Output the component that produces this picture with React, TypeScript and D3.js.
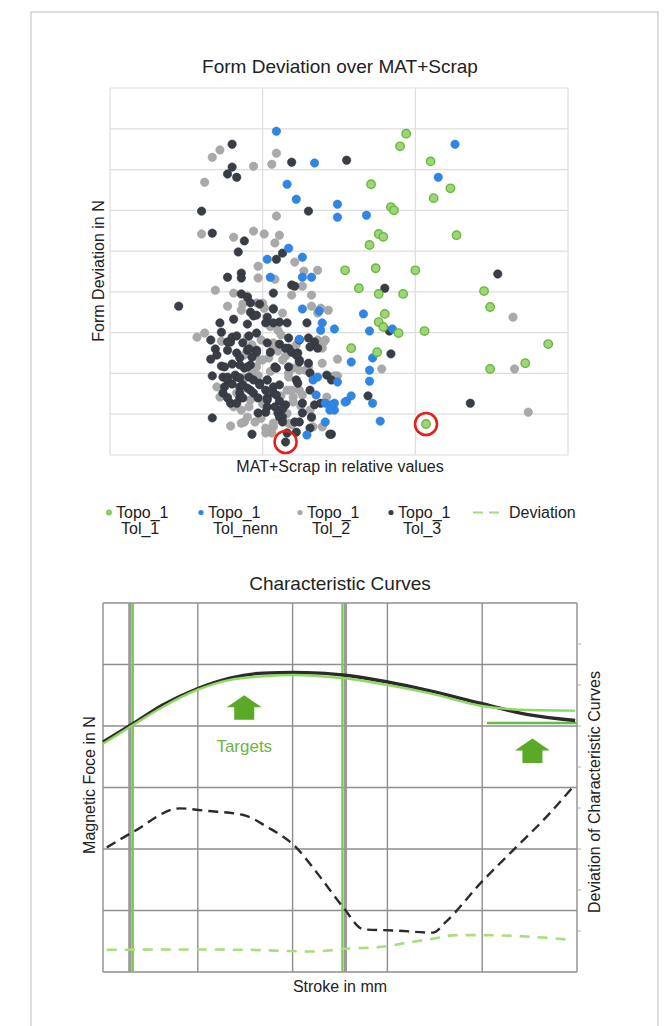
import React from 'react';
import * as d3 from 'd3';

const W = 671;
const H = 1026;
const FONT = "'Liberation Sans', Arial, Helvetica, sans-serif";

// ---------- Scatter data (x: MAT+Scrap relative, y: form deviation) ----------
const tol1: [number, number][] = [
  [1.94,7.88],[1.90,7.57],[2.10,7.20],[1.71,6.64],[2.23,6.54],[2.12,6.30],[1.84,6.08],[1.86,6.00],
  [1.76,5.42],[1.79,5.35],[1.70,5.15],[2.27,5.39],[1.54,4.53],[1.74,4.58],[2.00,4.53],[1.63,4.09],
  [1.76,3.95],[1.92,3.95],[2.45,4.02],[2.49,3.63],[1.80,3.46],[1.76,3.26],[1.79,3.14],[1.89,2.99],
  [2.06,3.04],[2.87,2.72],[1.58,2.62],[1.75,2.52],[2.72,2.25],[2.49,2.11],[2.07,0.76],
];

const tolNenn: [number, number][] = [
  [1.09,7.94],[2.26,7.62],[1.34,7.16],[1.16,6.64],[1.22,6.27],[2.15,6.81],[1.49,6.15],[1.49,5.83],
  [1.68,5.88],[1.17,5.07],[1.26,4.85],[1.03,4.80],[1.05,4.36],[1.26,4.36],[1.32,4.36],[1.26,3.58],
  [1.37,3.53],[1.39,3.24],[1.38,3.06],[1.47,3.09],[1.66,3.46],[1.85,3.09],[1.70,3.04],[1.24,2.84],
  [1.58,2.28],[1.72,2.38],[1.70,2.08],[1.49,1.79],[1.70,1.81],[1.33,1.84],[1.36,1.91],[1.58,1.45],
  [1.55,1.32],[1.72,1.27],[1.47,1.27],[1.47,1.10],[1.41,1.27],[1.45,1.23],[1.44,1.10],[1.54,1.30],
  [1.77,0.83],[1.41,0.81],[1.29,0.49],[1.35,1.47],
];

const tol2: [number, number][] = [
  [0.67,7.30],[0.72,7.48],[1.09,7.40],[0.94,7.08],[1.06,7.13],[0.62,6.69],[1.09,5.86],[0.60,5.42],
  [0.81,5.34],[0.94,5.49],[1.01,5.42],[1.11,5.39],[1.08,5.20],[1.21,4.73],[0.97,4.63],[1.27,4.51],
  [1.36,4.53],[0.97,4.34],[1.08,4.31],[1.26,4.14],[0.69,4.04],[0.81,3.97],[0.90,3.90],[1.19,3.92],
  [1.32,3.92],[0.96,3.73],[1.00,3.72],[0.77,3.65],[0.87,3.70],[0.86,3.55],[1.01,3.60],[1.07,3.60],
  [1.13,3.48],[1.32,3.65],[1.38,3.60],[1.43,3.55],[1.36,3.48],[1.10,3.06],[0.62,2.99],[0.57,2.89],
  [0.73,2.79],[0.90,2.89],[0.99,2.82],[1.07,2.75],[1.07,2.65],[1.36,2.82],[1.41,2.82],[1.40,2.77],
  [1.39,2.62],[1.15,2.43],[0.98,2.33],[1.04,2.38],[1.00,2.33],[1.13,2.33],[1.49,2.35],[1.39,2.25],
  [0.96,2.16],[1.20,2.13],[1.17,2.01],[1.28,2.08],[1.24,2.08],[1.30,2.16],[0.93,2.01],[1.49,1.94],
  [1.45,1.91],[0.88,1.89],[1.03,1.84],[1.17,1.91],[0.70,1.67],[0.83,1.52],[1.16,1.59],[1.24,1.59],
  [1.19,1.59],[1.26,1.47],[0.77,1.42],[0.72,1.42],[1.20,1.42],[1.20,1.30],[1.42,1.42],[0.81,1.18],
  [0.91,1.18],[0.86,1.10],[1.31,1.10],[1.32,0.91],[0.90,0.93],[0.95,0.81],[0.88,0.81],[0.79,0.71],
  [0.86,0.78],[1.19,0.74],[1.02,0.66],[1.07,0.69],[1.07,0.78],[1.17,0.78],[1.33,0.69],[1.39,0.69],
  [1.06,0.54],[1.02,0.54],[1.78,2.11],[1.47,1.94],[2.65,2.11],[2.64,3.38],[2.74,1.05],
  [1.12,2.95],[1.05,3.15],[0.93,2.70],[1.10,2.55],[1.22,2.70],[0.88,2.45],[1.05,2.05],[0.97,1.95],
  [1.12,1.45],[1.00,1.25],[0.92,1.35],[1.16,1.02],[1.25,1.20],[0.99,0.90],
];

const tol3: [number, number][] = [
  [0.80,7.62],[1.19,7.18],[1.55,7.23],[0.80,7.06],[0.77,6.89],[0.83,6.81],[0.60,5.98],[1.30,5.98],
  [0.67,5.44],[0.88,5.25],[1.13,4.95],[0.84,4.98],[1.09,4.80],[0.77,4.36],[0.86,4.46],[0.86,4.34],
  [1.19,4.17],[1.21,4.14],[2.54,4.44],[1.80,4.09],[1.83,3.04],[1.84,2.48],[1.69,1.45],[2.36,1.27],
  [1.45,0.51],[0.45,3.65],[0.86,3.95],[0.90,3.87],[1.07,3.97],[0.92,3.73],[0.98,3.70],[0.92,3.50],
  [0.94,3.41],[0.81,3.33],[1.03,3.38],[1.07,3.58],[1.11,3.26],[1.16,3.24],[1.07,3.24],[0.96,3.43],
  [1.02,3.24],[1.29,3.24],[0.90,3.21],[0.72,3.24],[0.73,3.01],[0.66,2.82],[0.79,2.77],[0.80,2.89],
  [0.83,2.92],[0.87,2.75],[0.91,2.92],[0.96,2.99],[0.77,2.77],[1.17,2.87],[1.24,2.82],[1.30,2.87],
  [1.34,2.77],[1.31,2.65],[1.36,2.62],[1.03,2.75],[1.11,2.72],[1.17,2.62],[1.15,2.62],[1.19,2.52],
  [1.23,2.50],[0.69,2.60],[0.77,2.57],[0.83,2.50],[0.85,2.38],[0.90,2.57],[0.96,2.57],[0.91,2.60],
  [0.96,2.52],[0.93,2.40],[1.05,2.52],[0.70,2.45],[0.66,2.35],[0.73,2.18],[0.75,2.16],[0.80,2.23],
  [0.85,2.21],[0.88,2.13],[0.92,2.21],[0.90,2.16],[1.08,2.16],[1.09,2.13],[1.17,2.16],[1.24,2.33],
  [1.22,2.45],[1.24,2.28],[1.30,2.25],[1.31,2.01],[1.42,1.96],[1.45,1.84],[0.67,1.94],[0.74,1.91],
  [0.77,1.91],[0.83,1.91],[0.82,1.96],[0.85,1.89],[0.91,1.91],[0.77,1.84],[0.80,1.74],[0.98,1.76],
  [0.94,1.84],[0.98,1.72],[1.03,1.84],[1.07,1.67],[1.11,1.72],[1.22,1.84],[1.23,1.76],[0.75,1.67],
  [0.85,1.67],[0.87,1.72],[0.90,1.64],[0.92,1.59],[0.94,1.52],[1.02,1.59],[1.07,1.52],[1.31,1.59],
  [0.74,1.52],[0.77,1.40],[0.85,1.40],[0.85,1.52],[0.87,1.40],[0.97,1.40],[1.03,1.40],[1.03,1.35],
  [1.09,1.47],[1.11,1.32],[1.15,1.23],[1.26,1.27],[1.34,1.23],[1.38,1.27],[0.79,1.27],[0.83,1.27],
  [1.03,1.18],[1.08,1.18],[1.13,1.13],[1.26,1.03],[0.97,1.03],[1.02,1.05],[1.10,1.03],[1.13,0.93],
  [1.11,0.93],[1.32,0.93],[0.67,0.91],[1.13,0.81],[1.21,0.81],[1.24,0.81],[0.93,0.51],[1.16,0.54],
  [1.22,0.56],[1.31,0.66],[1.44,0.51],[1.15,0.32],
];

const highlighted: [number, number][] = [[1.15, 0.32], [2.07, 0.76]];

const legendLines1 = ['Topo_1', 'Topo_1', 'Topo_1', 'Topo_1'];
const legendLines2 = ['Tol_1', 'Tol_nenn', 'Tol_2', 'Tol_3'];
const legendColors = ['#8fd266', '#2f86e6', '#a8a8a8', '#383d46'];

// ---------- Characteristic curves (x: stroke, left y: force, right y: deviation) ----------
const strokeX = [0, 0.32, 0.63, 1.0, 1.34, 1.69, 2.01, 2.29, 2.53, 2.99, 3.45, 3.98, 4.5, 4.98];
const forceMeasured = [3.74, 4.04, 4.34, 4.61, 4.78, 4.86, 4.87, 4.86, 4.83, 4.72, 4.57, 4.37, 4.18, 4.09];
const forceReference = [3.71, 4.02, 4.31, 4.59, 4.75, 4.81, 4.83, 4.81, 4.78, 4.67, 4.53, 4.33, 4.26, 4.25];

const devBlackX = [0.04, 0.32, 0.81, 1.09, 1.48, 1.73, 2.01, 2.29, 2.53, 2.75, 3.1, 3.48, 3.62, 3.98, 4.33, 4.68, 4.96];
const devBlackY = [3.04, 3.42, 3.99, 3.93, 3.83, 3.54, 3.1, 2.32, 1.59, 1.04, 1.01, 0.96, 1.23, 2.16, 2.98, 3.79, 4.52];

const devGreenX = [0.04, 0.81, 1.52, 2.22, 2.53, 2.99, 3.27, 3.45, 3.73, 3.98, 4.51, 4.96];
const devGreenY = [0.54, 0.55, 0.54, 0.5, 0.56, 0.63, 0.74, 0.8, 0.9, 0.9, 0.86, 0.78];

const markerStrokes = [0.3, 2.54];
const targetLine = { x0: 4.05, x1: 5, y: 4.05 };
const targetArrows: [number, number][] = [[1.49, 4.1], [4.53, 3.4]];

export default function App() {
  // Scatter scales
  const sx = d3.scaleLinear().domain([0, 3]).range([110, 568]);
  const sy = d3.scaleLinear().domain([0, 9]).range([455, 88]);
  const sxTicks = d3.range(0, 4);
  const syTicks = d3.range(0, 10);

  // Curves scales
  const bx = d3.scaleLinear().domain([0, 5]).range([103, 577]);
  const byL = d3.scaleLinear().domain([0, 6]).range([972, 603]);
  const byR = d3.scaleLinear().domain([0, 9]).range([972, 603]);

  const lineL = d3.line<[number, number]>().x(d => bx(d[0])).y(d => byL(d[1])).curve(d3.curveMonotoneX);
  const lineR = d3.line<[number, number]>().x(d => bx(d[0])).y(d => byR(d[1])).curve(d3.curveMonotoneX);

  const measured = strokeX.map((x, i) => [x, forceMeasured[i]] as [number, number]);
  const reference = strokeX.map((x, i) => [x, forceReference[i]] as [number, number]);
  const devBlack = devBlackX.map((x, i) => [x, devBlackY[i]] as [number, number]);
  const devGreen = devGreenX.map((x, i) => [x, devGreenY[i]] as [number, number]);

  const series: { pts: [number, number][]; fill: string; stroke: string }[] = [
    { pts: tol2, fill: '#a9a9a9', stroke: '#a0a0a0' },
    { pts: tol3, fill: '#383d46', stroke: '#30343c' },
    { pts: tolNenn, fill: '#2f86e6', stroke: '#2a7cd6' },
    { pts: tol1, fill: '#9bd774', stroke: '#6db542' },
  ];

  const arrowPath = (cx: number, by: number) => {
    // up arrow anchored at bottom centre
    const hw = 17.5, sw = 10, hh = 12, total = 24.5;
    return `M${cx - sw},${by} L${cx - sw},${by - (total - hh)} L${cx - hw},${by - (total - hh)} L${cx},${by - total} L${cx + hw},${by - (total - hh)} L${cx + sw},${by - (total - hh)} L${cx + sw},${by} Z`;
  };

  const legendX = [109, 201, 300, 391];

  return (
    <svg width={W} height={H} style={{ position: 'absolute', left: 0, top: 0, display: 'block' }} fontFamily={FONT}>
      <rect x={0} y={0} width={W} height={H} fill="#fff" />
      <rect x={31} y={12} width={627} height={1030} fill="none" stroke="#c9c9c9" strokeWidth={1.2} />

      {/* ---------- Scatter ---------- */}
      <text x={340} y={73} textAnchor="middle" fontSize={19} fill="#222">Form Deviation over MAT+Scrap</text>
      <g>
        {syTicks.map(t => (
          <line key={'sy' + t} x1={sx(0)} x2={sx(3)} y1={sy(t)} y2={sy(t)} stroke="#dedede" strokeWidth={1.2} />
        ))}
        {sxTicks.map(t => (
          <line key={'sx' + t} x1={sx(t)} x2={sx(t)} y1={sy(0)} y2={sy(9)} stroke="#dedede" strokeWidth={1.2} />
        ))}
      </g>
      {series.map((s, si) => (
        <g key={'s' + si}>
          {s.pts.map((p, i) => (
            <circle key={i} cx={sx(p[0])} cy={sy(p[1])} r={4.2} fill={s.fill} stroke={s.stroke} strokeWidth={si === 3 ? 1.4 : 0.6} />
          ))}
        </g>
      ))}
      {highlighted.map((p, i) => (
        <circle key={'h' + i} cx={sx(p[0])} cy={sy(p[1])} r={11} fill="none" stroke="#e3211c" strokeWidth={2.6} />
      ))}
      <text x={340} y={472} textAnchor="middle" fontSize={16} fill="#222">MAT+Scrap in relative values</text>
      <text transform="translate(104,271) rotate(-90)" textAnchor="middle" fontSize={16} fill="#222">Form Deviation in N</text>

      {/* Legend */}
      {legendX.map((lx, i) => (
        <g key={'lg' + i}>
          <circle cx={lx} cy={512.5} r={2.6} fill={legendColors[i]} stroke={i === 0 ? '#6db542' : 'none'} strokeWidth={0.8} />
          <text x={lx + 7} y={517.5} fontSize={16} fill="#222">{legendLines1[i]}</text>
          <text x={lx + 12} y={533.5} fontSize={16} fill="#222">{legendLines2[i]}</text>
        </g>
      ))}
      <line x1={473} x2={500} y1={512.5} y2={512.5} stroke="#a6dc7c" strokeWidth={2.2} strokeDasharray="10,6" />
      <text x={509} y={517.5} fontSize={16} fill="#222">Deviation</text>

      {/* ---------- Characteristic Curves ---------- */}
      <text x={340} y={590} textAnchor="middle" fontSize={19} fill="#222">Characteristic Curves</text>
      <g>
        {d3.range(0, 7).map(t => (
          <line key={'gy' + t} x1={bx(0)} x2={bx(5)} y1={byL(t)} y2={byL(t)} stroke="#8e8e8e" strokeWidth={1.4} />
        ))}
        {d3.range(0, 6).map(t => (
          <line key={'gx' + t} x1={bx(t)} x2={bx(t)} y1={byL(0)} y2={byL(6)} stroke="#8e8e8e" strokeWidth={1.4} />
        ))}
        {d3.range(1, 9).map(t => (
          <line key={'rt' + t} x1={bx(5)} x2={bx(5) + 4} y1={byR(t)} y2={byR(t)} stroke="#b0b0b0" strokeWidth={1} />
        ))}
      </g>
      {markerStrokes.map((m, i) => (
        <g key={'m' + i}>
          <line x1={bx(m) + (i === 0 ? -1.5 : 1.5)} x2={bx(m) + (i === 0 ? -1.5 : 1.5)} y1={byL(0)} y2={byL(6)} stroke="#9a9a9a" strokeWidth={3.5} />
          <line x1={bx(m) + (i === 0 ? 1.5 : -1.5)} x2={bx(m) + (i === 0 ? 1.5 : -1.5)} y1={byL(0)} y2={byL(6)} stroke="#7cc653" strokeWidth={2} />
        </g>
      ))}
      <line x1={bx(targetLine.x0)} x2={bx(targetLine.x1)} y1={byL(targetLine.y)} y2={byL(targetLine.y)} stroke="#6dbb45" strokeWidth={2.6} />
      <path d={lineL(measured) || ''} fill="none" stroke="#2b2b2b" strokeWidth={3.4} />
      <path d={lineL(reference) || ''} fill="none" stroke="#8fd862" strokeWidth={2.4} />
      <path d={lineR(devBlack) || ''} fill="none" stroke="#2b2b2b" strokeWidth={2.4} strokeDasharray="10,6" />
      <path d={lineR(devGreen) || ''} fill="none" stroke="#a9de80" strokeWidth={2.6} strokeDasharray="10,8" />
      {targetArrows.map((a, i) => (
        <path key={'a' + i} d={arrowPath(bx(a[0]), byL(a[1]))} fill="#5aaa27" />
      ))}
      <text x={bx(targetArrows[0][0])} y={752} textAnchor="middle" fontSize={17} fill="#6cb540">Targets</text>
      <text x={340} y={992} textAnchor="middle" fontSize={16} fill="#222">Stroke in mm</text>
      <text transform="translate(95,785) rotate(-90)" textAnchor="middle" fontSize={16} fill="#222">Magnetic Foce in N</text>
      <text transform="translate(600,792) rotate(-90)" textAnchor="middle" fontSize={16} fill="#222">Deviation of Characteristic Curves</text>
    </svg>
  );
}
